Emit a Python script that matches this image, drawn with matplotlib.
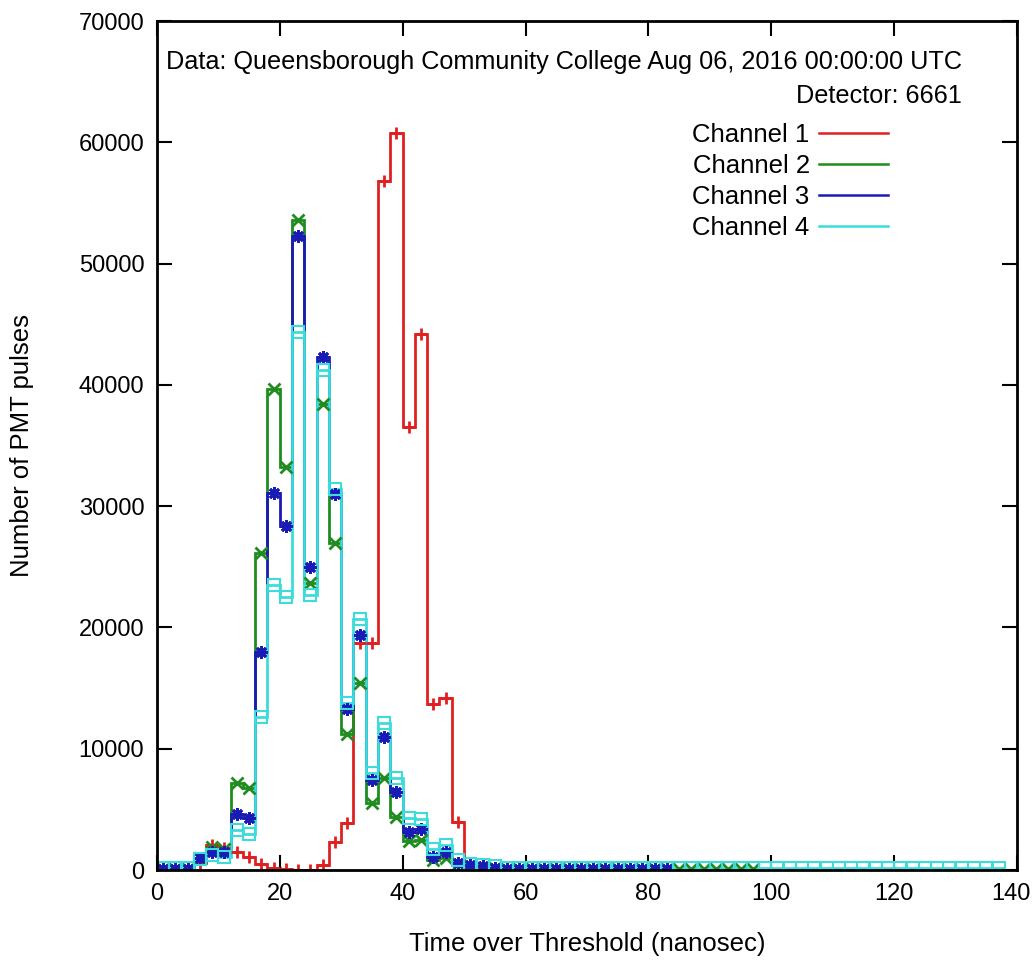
import numpy as np
import matplotlib
matplotlib.use("Agg")
import matplotlib.pyplot as plt
import matplotlib.transforms as mtransforms
from matplotlib.lines import Line2D

plt.rcParams['font.family'] = ['Liberation Sans', 'DejaVu Sans']

# bin centres (ns), 2 ns wide bins
time_ns = list(range(1, 139, 2))

# Number of PMT pulses per bin
ch1 = [0, 0, 0, 600, 2100, 1800, 1500, 1100, 500, 200,
       50, 0, 0, 400, 2300, 3900, 18700, 18700, 56800, 60800,
       36500, 44200, 13700, 14200, 4000, 200, 100, 100, 50, 50,
       50, 50, 50, 50, 50, 50, 50, 50, 50, 50, 50, 50]
ch2 = [100, 100, 100, 1000, 1900, 1700, 7200, 6800, 26100, 39700,
       33200, 53600, 23700, 38400, 27000, 11200, 15400, 5500, 7600, 4400,
       2400, 2500, 800, 1000, 500, 300, 200, 150, 100, 100,
       100, 100, 100, 100, 100, 100, 100, 100, 100, 100,
       100, 100, 100, 100, 100, 100, 100, 100, 100]
ch3 = [100, 100, 100, 1000, 1500, 1500, 4600, 4300, 18000, 31100,
       28400, 52300, 25000, 42300, 31000, 13300, 19400, 7400, 11000, 6400,
       3100, 3400, 1100, 1500, 600, 400, 300, 200, 100, 100,
       100, 100, 100, 100, 100, 100, 100, 100, 100, 100, 100, 100]
ch4 = [200, 200, 200, 900, 1200, 1100, 3300, 3000, 12600, 23500,
       22500, 44400, 22700, 41200, 31400, 13800, 20700, 8000, 12100, 7600,
       4300, 4200, 1700, 2100, 800, 500, 400, 300, 200, 200,
       200, 200, 200, 200, 200, 200, 200, 200, 200, 200,
       200, 200, 200, 200, 200, 200, 200, 200, 200, 200,
       200, 200, 200, 200, 200, 200, 200, 200, 200, 200,
       200, 200, 200, 200, 200, 200, 200, 200, 200]

labels = ['Channel 1', 'Channel 2', 'Channel 3', 'Channel 4']
colors = ['#e02020', '#1e8c1e', '#1a1ab4', '#3cdcdc']
markers = ['+', 'x', (8, 2, 0), 's']

fig = plt.figure(figsize=(10.32, 9.65), dpi=100)
ax = fig.add_axes([0.152, 0.0984, 0.8335, 0.8798])

for vals, col, mk in zip([ch1, ch2, ch3, ch4], colors, markers):
    x = np.array(time_ns[:len(vals)])
    edges = np.append(x - 1, x[-1] + 1)
    ax.stairs(vals, edges, color=col, lw=2, baseline=None)
    if mk == 's':
        ax.plot(x, vals, ls='none', marker=mk, ms=8, mfc='none', mec=col, mew=1.5)
    else:
        ax.plot(x, vals, ls='none', marker=mk, ms=9, color=col, mew=2)

ax.set_xlim(0, 140)
ax.set_ylim(0, 70000)
ax.set_xticks(range(0, 141, 20))
ax.set_yticks(range(0, 70001, 10000))
ax.tick_params(direction='in', length=11, width=1.5, top=True, right=True,
               labelsize=17, pad=9)
for s in ax.spines.values():
    s.set_linewidth(2)

# keep the last x label inside the canvas
fig.canvas.draw()
last = ax.get_xticklabels()[-1]
last.set_transform(last.get_transform() +
                   mtransforms.ScaledTranslation(-6 / 100, 0, fig.dpi_scale_trans))

ax.set_xlabel('Time over Threshold (nanosec)', fontsize=18.5)
ax.xaxis.set_label_coords(0.5, -(932 - 870) / 849)
ax.set_ylabel('Number of PMT pulses', fontsize=18.5)
ax.yaxis.set_label_coords(-(157 - 34) / 860, 0.5)

fig.text(962 / 1032, 1 - 62 / 965,
         'Data: Queensborough Community College Aug 06, 2016 00:00:00 UTC',
         ha='right', va='center', fontsize=18.2)
fig.text(962 / 1032, 1 - 96 / 965, 'Detector: 6661',
         ha='right', va='center', fontsize=18.2)

handles = [Line2D([], [], color=c, lw=1.8) for c in colors]
ax.legend(handles, labels, loc='upper right', bbox_to_anchor=(888 / 1032, 1 - 123 / 965),
          bbox_transform=fig.transFigure, frameon=False, markerfirst=False,
          fontsize=18.5, handlelength=2.7, handletextpad=0.35, labelspacing=0.27,
          borderpad=0, borderaxespad=0)

fig.savefig('out.png', dpi=100)
